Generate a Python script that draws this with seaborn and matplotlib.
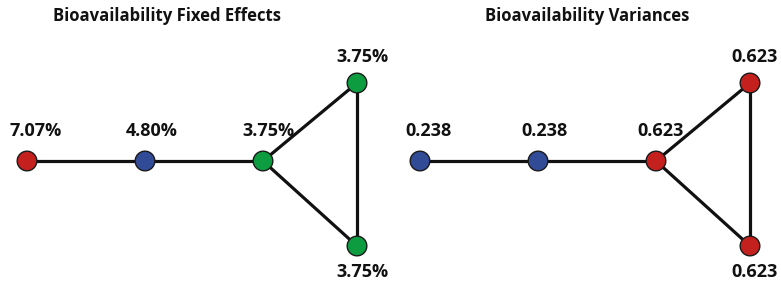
import matplotlib
matplotlib.use("Agg")
import matplotlib.pyplot as plt
import seaborn as sns
import pandas as pd

sns.set_theme(style="white")
plt.rcParams['font.family'] = ['Open Sans', 'DejaVu Sans']

# ---- data ----
panel_titles = ["Bioavailability Fixed Effects", "Bioavailability Variances"]
node_ids = ["A", "B", "C", "D", "E"]
fixed_labels = ["7.07%", "4.80%", "3.75%", "3.75%", "3.75%"]
fixed_groups = ["red", "blue", "green", "green", "green"]
var_labels = ["0.238", "0.238", "0.623", "0.623", "0.623"]
var_groups = ["blue", "blue", "red", "red", "red"]
edges = [("A", "B"), ("B", "C"), ("C", "D"), ("C", "E"), ("D", "E")]

# ---- layout (pixel space) ----
layout_x = {"A": 0, "B": 118, "C": 236, "D": 330, "E": 330}
layout_y = {"A": 161, "B": 161, "C": 161, "D": 83, "E": 246}
label_dx = {"A": 9, "B": 7, "C": 5, "D": 5, "E": 5}
label_y = {"A": 131, "B": 131, "C": 131, "D": 57, "E": 272}
panel_offsets = [27, 420]
title_x = [167, 587]
palette = {"red": "#c4201e", "blue": "#324b97", "green": "#0e9c40"}

fig = plt.figure(figsize=(7.81, 2.84), dpi=100)
ax = fig.add_axes([0, 0, 1, 1])

for p, (title, labels, groups) in enumerate(
        zip(panel_titles, [fixed_labels, var_labels], [fixed_groups, var_groups])):
    off = panel_offsets[p]
    df = pd.DataFrame({
        "node": node_ids,
        "x": [layout_x[n] + off for n in node_ids],
        "y": [layout_y[n] for n in node_ids],
        "label": labels,
        "group": groups,
    })
    pos = {r.node: (r.x, r.y) for r in df.itertuples()}
    for a, b in edges:
        ax.plot([pos[a][0], pos[b][0]], [pos[a][1], pos[b][1]],
                color="#111111", lw=2.3, zorder=1, solid_capstyle="round")
    sns.scatterplot(data=df, x="x", y="y", hue="group", palette=palette,
                    s=200, edgecolor="#1a1a1a", linewidth=1.0, legend=False,
                    ax=ax, zorder=3)
    for r in df.itertuples():
        ax.text(r.x + label_dx[r.node], label_y[r.node], r.label,
                ha="center", va="center", fontsize=13, fontweight="bold",
                color="#111111")
    ax.text(title_x[p], 16, title, ha="center", va="center",
            fontsize=12, fontweight="bold", color="#111111")

ax.set_xlim(0, 781)
ax.set_ylim(284, 0)
ax.axis("off")
fig.savefig("out.png", dpi=100)
